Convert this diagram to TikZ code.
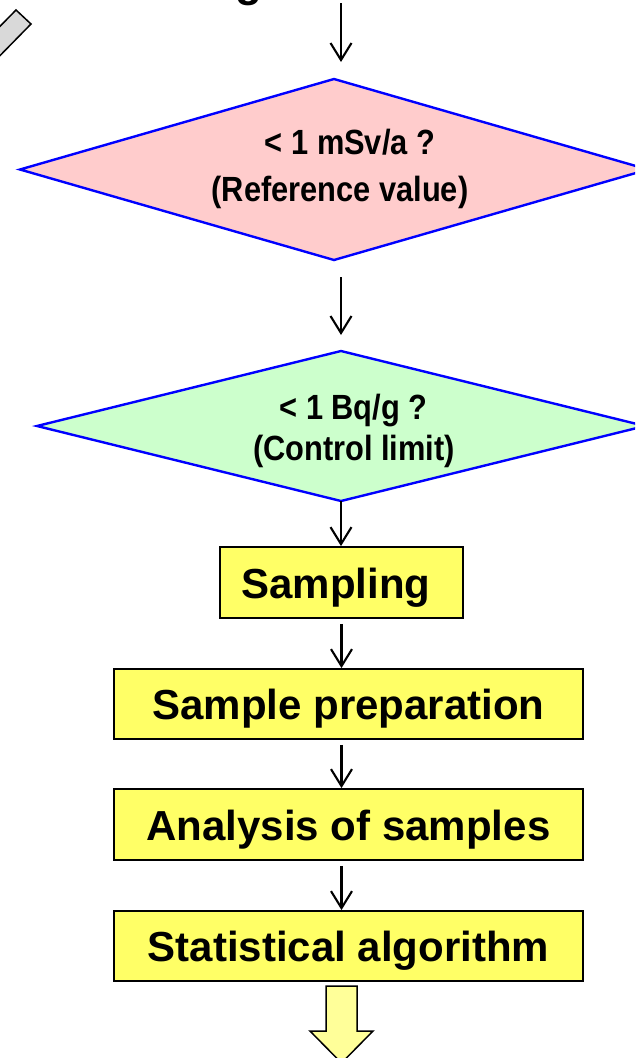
\documentclass[tikz,border=0pt]{standalone}
\usepackage{fontspec}
\setmainfont{Liberation Sans}
\newfontfamily\narrowfont{Liberation Sans}[FakeStretch=0.88]
\usetikzlibrary{shapes.geometric,arrows.meta}
\definecolor{pinkfill}{HTML}{FFCCCC}
\definecolor{greenfill}{HTML}{CCFFCC}
\definecolor{boxyellow}{HTML}{FFFF66}
\definecolor{lightyellow}{HTML}{FFFF99}
\definecolor{greybar}{HTML}{D9D9D9}
\tikzset{
  decision/.style={shape=diamond, draw=blue, line width=2.4pt, inner sep=0pt, outer sep=0pt},
  dtext/.style={anchor=base, inner sep=0pt, font=\narrowfont\bfseries\fontsize{35}{40}\selectfont},
  stepbox/.style={draw=black, line width=1.8pt, fill=boxyellow, inner sep=0pt,
    text height=32pt, text depth=1pt, font=\bfseries\fontsize{42}{50}\selectfont},
  arr/.style={draw=black, line width=2.1pt, -{Straight Barb[length=17pt,width=21pt]}},
}
\begin{document}
\begin{tikzpicture}[x=1pt,y=-1pt]
\useasboundingbox (0,0) rectangle (635,1058);
\clip (0,0) rectangle (635,1058);

% partial title and grey bar at the top edge
\node[anchor=base, inner sep=0pt, font=\bfseries\fontsize{44}{50}\selectfont] (title) at (249,-4) {g};
\draw[black, line width=1.5pt, fill=greybar] (16,10) -- (31,24) -- (-20,76) -- (-35,62) -- cycle;

% decisions
\node[decision, fill=pinkfill, minimum width=628pt, minimum height=181pt] (pink) at (334,169.5) {};
\node[dtext] (pinkA) at (350,154) {< 1 mSv/a ?};
\node[dtext] (pinkB) at (340,201) {(Reference value)};

\node[decision, fill=greenfill, minimum width=608pt, minimum height=150pt] (green) at (341,426) {};
\node[dtext] (greenA) at (353.5,419) {< 1 Bq/g ?};
\node[dtext] (greenB) at (354,460) {(Control limit)};

% steps
\node[stepbox, minimum width=243pt, minimum height=71pt] (samp) at (341.5,582.5) {Sampling\hspace*{11pt}};
\node[stepbox, minimum width=469pt, minimum height=70pt] (prep) at (348.5,704) {Sample preparation};
\node[stepbox, minimum width=469pt, minimum height=71pt] (anal) at (348.5,824.5) {Analysis of samples};
\node[stepbox, minimum width=469pt, minimum height=70pt] (stat) at (348.5,946) {Statistical algorithm};

% connectors
\coordinate (start) at (341,3);
\draw[arr, shorten >=17pt] (start) -- (start |- pink.north);
\draw[arr, shorten <=17pt, shorten >=16pt] (pink.south -| green.north) -- (green.north);
\draw[arr] (green.south) -- (green.south |- samp.north);
\draw[arr, shorten <=5pt] (samp.south) -- (samp.south |- prep.north);
\draw[arr, shorten <=5pt] (samp.south |- prep.south) -- (samp.south |- anal.north);
\draw[arr, shorten <=5pt] (samp.south |- anal.south) -- (samp.south |- stat.north);

% block arrow below
\draw[black, line width=1.5pt, fill=lightyellow]
  (326,986) -- (357,986) -- (357,1031) -- (373,1031) -- (341.5,1063) -- (310,1031) -- (326,1031) -- cycle;
\end{tikzpicture}
\end{document}
